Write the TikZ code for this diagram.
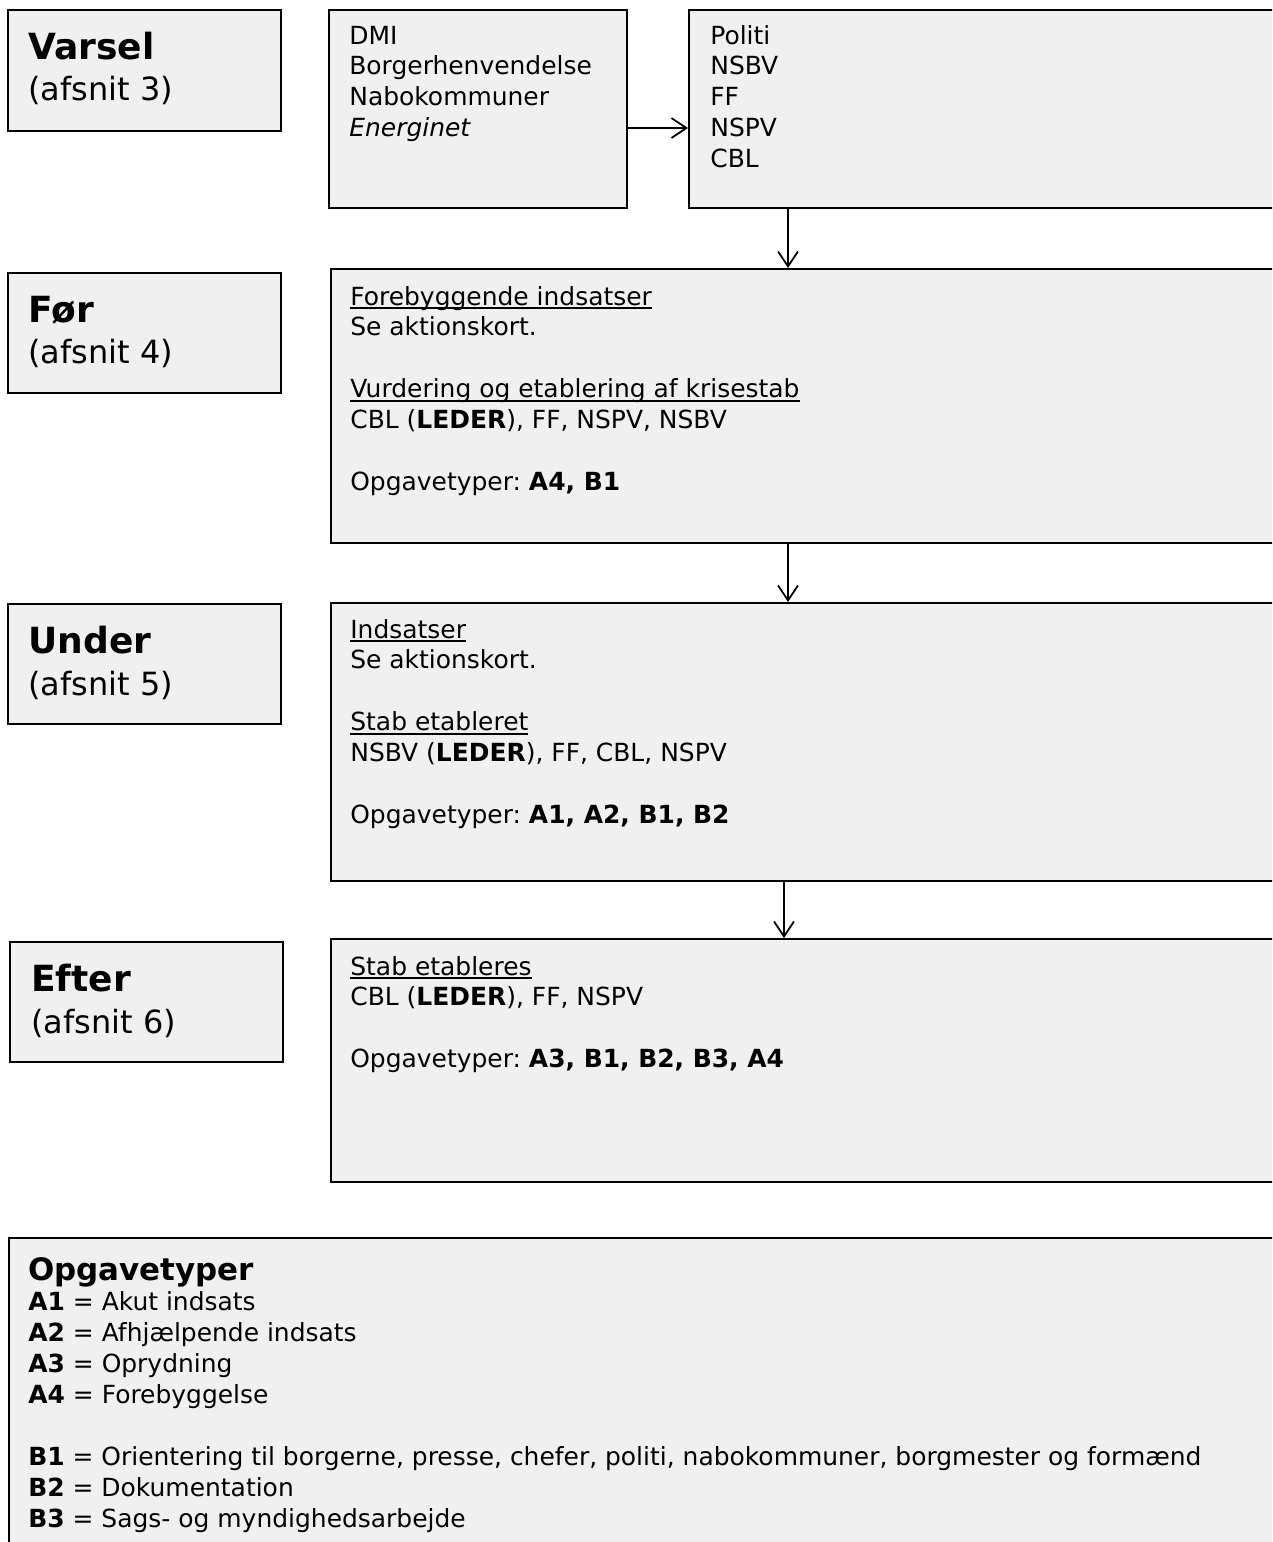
\documentclass[tikz,border=0pt]{standalone}
\usepackage{fontspec}
\setmainfont{DejaVu Sans}
\usetikzlibrary{arrows.meta}
\definecolor{boxgray}{HTML}{F0F0F0}
\frenchspacing
\newcommand\bodyfont{\fontsize{14.2pt}{17.6pt}\selectfont}
\newcommand\phasefont{\fontsize{20.5pt}{23.9pt}\selectfont\bfseries}
\newcommand\afsnitfont{\normalfont\fontsize{18.2pt}{23.9pt}\selectfont}
\newcommand\legendfont{\fontsize{17.6pt}{17.6pt}\selectfont\bfseries}
\newcommand\undl[1]{\leavevmode\setbox0\hbox{#1}\rlap{\rule[-0.16em]{\wd0}{0.08em}}\box0}
\newcommand\gap{\\[\baselineskip]}
\tikzset{
  box/.style 2 args={draw, fill=boxgray, line width=0.035cm, anchor=north west, inner sep=0,
    minimum width=#1*0.02cm, minimum height=#2*0.02cm},
  txt/.style={anchor=base west, inner sep=0, font=\bodyfont},
  arr/.style={-{Straight Barb[length=0.3cm, width=0.4cm]}, line width=0.035cm}
}
\begin{document}
\begin{tikzpicture}[x=0.02cm, y=-0.02cm]
  \useasboundingbox (0,0) rectangle (1272,1542);
  \clip (0,0) rectangle (1272,1542);

  % phases
  \node[box={273}{121}] (varsel) at (7,9) {};
  \node[box={273}{120}] (foer) at (7,272) {};
  \node[box={273}{120}] (under) at (7,603) {};
  \node[box={273}{120}] (efter) at (9,941) {};
  \node[txt] (varseltxt) at ([shift={(21,50)}]varsel.north west) {\parbox[t]{5cm}{\phasefont Varsel\\\afsnitfont (afsnit 3)}};
  \node[txt] (foertxt) at ([shift={(21,50)}]foer.north west) {\parbox[t]{5cm}{\phasefont Før\\\afsnitfont (afsnit 4)}};
  \node[txt] (undertxt) at ([shift={(21,50)}]under.north west) {\parbox[t]{5cm}{\phasefont Under\\\afsnitfont (afsnit 5)}};
  \node[txt] (eftertxt) at ([shift={(22,50)}]efter.north west) {\parbox[t]{5cm}{\phasefont Efter\\\afsnitfont (afsnit 6)}};

  % flow boxes
  \node[box={298}{198}] (dmi) at (328,9) {};
  \node[box={700}{198}] (politi) at (688,9) {};
  \node[box={1000}{274}] (fore) at (330,268) {};
  \node[box={1000}{278}] (inds) at (330,602) {};
  \node[box={1000}{243}] (stab) at (330,938) {};
  \node[box={1300}{400}] (opg) at (8,1237) {};

  \node[txt] (dmitxt) at ([shift={(21,35)}]dmi.north west) {\parbox[t]{5.5cm}{DMI\\Borgerhenvendelse\\Nabokommuner\\\textit{Energinet}}};
  \node[txt] (politxt) at ([shift={(22,35)}]politi.north west) {\parbox[t]{5.5cm}{Politi\\NSBV\\FF\\NSPV\\CBL}};
  \node[txt] (foretxt) at ([shift={(20,37)}]fore.north west) {\parbox[t]{17cm}{\undl{Forebyggende indsatser}\\Se aktionskort.\gap
    \undl{Vurdering og etablering af krisestab}\\CBL (\textbf{LEDER}), FF, NSPV, NSBV\gap
    Opgavetyper: \textbf{A4, B1}}};
  \node[txt] (indstxt) at ([shift={(20,36)}]inds.north west) {\parbox[t]{17cm}{\undl{Indsatser}\\Se aktionskort.\gap
    \undl{Stab etableret}\\NSBV (\textbf{LEDER}), FF, CBL, NSPV\gap
    Opgavetyper: \textbf{A1, A2, B1, B2}}};
  \node[txt] (stabtxt) at ([shift={(20,37)}]stab.north west) {\parbox[t]{17cm}{\undl{Stab etableres}\\CBL (\textbf{LEDER}), FF, NSPV\gap
    Opgavetyper: \textbf{A3, B1, B2, B3, A4}}};
  \node[txt] (opgtxt) at ([shift={(20,43)}]opg.north west) {\parbox[t]{26cm}{{\legendfont Opgavetyper}\\
    \textbf{A1} = Akut indsats\\
    \textbf{A2} = Afhjælpende indsats\\
    \textbf{A3} = Oprydning\\
    \textbf{A4} = Forebyggelse\gap
    \textbf{B1} = Orientering til borgerne, presse, chefer, politi, nabokommuner, borgmester og formænd\\
    \textbf{B2} = Dokumentation\\
    \textbf{B3} = Sags- og myndighedsarbejde}};

  % arrows
  \coordinate (c1) at (788,128);
  \coordinate (c2) at (784,0);
  \draw[arr] (dmi.east |- c1) -- (politi.west |- c1);
  \draw[arr] (politi.south -| c1) -- (fore.north -| c1);
  \draw[arr] (fore.south -| c1) -- (inds.north -| c1);
  \draw[arr] (inds.south -| c2) -- (stab.north -| c2);
\end{tikzpicture}
\end{document}
